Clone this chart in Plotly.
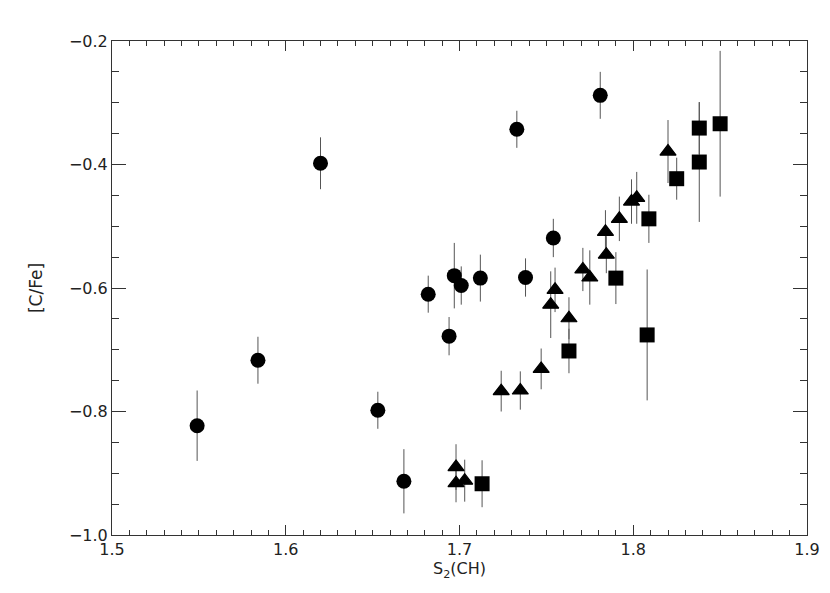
import plotly.graph_objects as go

# Circles
circ_x = [1.549, 1.584, 1.620, 1.653, 1.668, 1.682, 1.694, 1.697, 1.701, 1.712, 1.733, 1.738, 1.754, 1.781]
circ_y = [-0.823, -0.717, -0.398, -0.798, -0.913, -0.610, -0.678, -0.580, -0.596, -0.584, -0.343, -0.583, -0.519, -0.288]
circ_e = [0.057, 0.038, 0.042, 0.030, 0.052, 0.030, 0.031, 0.053, 0.031, 0.038, 0.030, 0.031, 0.031, 0.038]

# Triangles
tri_x = [1.698, 1.698, 1.703, 1.724, 1.735, 1.747, 1.7525, 1.755, 1.763, 1.771, 1.775, 1.784, 1.7845, 1.792, 1.799, 1.802, 1.820]
tri_y = [-0.890, -0.916, -0.912, -0.767, -0.766, -0.731, -0.627, -0.603, -0.649, -0.570, -0.583, -0.509, -0.546, -0.488, -0.460, -0.454, -0.379]
tri_e = [0.037, 0.031, 0.034, 0.033, 0.031, 0.033, 0.054, 0.036, 0.034, 0.035, 0.044, 0.035, 0.030, 0.036, 0.036, 0.042, 0.051]

# Squares
sq_x = [1.713, 1.763, 1.790, 1.808, 1.809, 1.825, 1.838, 1.838, 1.850]
sq_y = [-0.917, -0.702, -0.584, -0.676, -0.488, -0.423, -0.396, -0.341, -0.334]
sq_e = [0.038, 0.036, 0.042, 0.106, 0.039, 0.034, 0.097, 0.042, 0.118]

x_ticks = [1.5, 1.6, 1.7, 1.8, 1.9]
y_ticks = [-1.0, -0.8, -0.6, -0.4, -0.2]
y_labels = ["\u22121.0", "\u22120.8", "\u22120.6", "\u22120.4", "\u22120.2"]

ERR = dict(type="data", symmetric=True, color="#555555", thickness=1, width=0)

fig = go.Figure()
fig.add_trace(go.Scatter(x=circ_x, y=circ_y, mode="markers",
                         error_y=dict(array=circ_e, **ERR),
                         marker=dict(symbol="circle", size=15, color="black"),
                         showlegend=False))
fig.add_trace(go.Scatter(x=tri_x, y=tri_y, mode="markers",
                         error_y=dict(array=tri_e, **ERR),
                         marker=dict(symbol="triangle-up", size=14, color="black",
                                     line=dict(color="black", width=1.2)),
                         showlegend=False))
fig.add_trace(go.Scatter(x=sq_x, y=sq_y, mode="markers",
                         error_y=dict(array=sq_e, **ERR),
                         marker=dict(symbol="square", size=15, color="black"),
                         showlegend=False))

axis_common = dict(showgrid=False, zeroline=False, showline=True, linecolor="#333333",
                   linewidth=1, mirror="allticks", ticks="inside", tickcolor="#333333",
                   tickwidth=1, tickfont=dict(family="DejaVu Sans", size=16, color="#222222"))

fig.update_xaxes(range=[1.5, 1.9], tickvals=x_ticks, ticktext=[f"{v:.1f}" for v in x_ticks],
                 ticklen=10,
                 minor=dict(dtick=0.01, ticklen=5, ticks="inside", tickcolor="#333333"),
                 title=dict(text="S<sub>2</sub>(CH)", standoff=3,
                            font=dict(family="DejaVu Sans", size=16, color="#222222")),
                 **axis_common)
fig.update_yaxes(range=[-1.0, -0.2], tickvals=y_ticks, ticktext=y_labels,
                 ticklen=14,
                 minor=dict(dtick=0.05, ticklen=7, ticks="inside", tickcolor="#333333"),
                 title=dict(text="[C/Fe]", standoff=21,
                            font=dict(family="DejaVu Sans", size=17, color="#222222")),
                 **axis_common)

fig.update_layout(width=830, height=593, margin=dict(l=104, r=31, t=33, b=66),
                  plot_bgcolor="white", paper_bgcolor="white")

fig.write_html("out.html")
